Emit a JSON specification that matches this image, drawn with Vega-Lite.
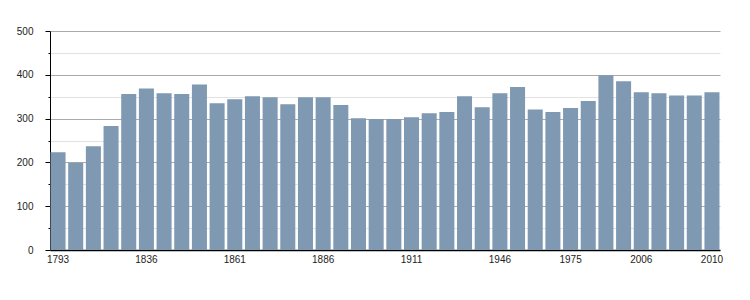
{
  "$schema": "https://vega.github.io/schema/vega-lite/v6.json",
  "width": 670,
  "height": 219,
  "autosize": "none",
  "padding": {"left": 50, "top": 31, "right": 30, "bottom": 50},
  "background": "white",
  "config": {"view": {"stroke": null}, "font": "Liberation Sans"},
  "data": {"values": [
    {"year": "1793", "pop": 223},
    {"year": "1800", "pop": 199},
    {"year": "1806", "pop": 237},
    {"year": "1821", "pop": 283},
    {"year": "1831", "pop": 356},
    {"year": "1836", "pop": 369},
    {"year": "1841", "pop": 358},
    {"year": "1846", "pop": 356},
    {"year": "1851", "pop": 378},
    {"year": "1856", "pop": 335},
    {"year": "1861", "pop": 344},
    {"year": "1866", "pop": 351},
    {"year": "1872", "pop": 349},
    {"year": "1876", "pop": 333},
    {"year": "1881", "pop": 349},
    {"year": "1886", "pop": 349},
    {"year": "1891", "pop": 331},
    {"year": "1896", "pop": 301},
    {"year": "1901", "pop": 299},
    {"year": "1906", "pop": 299},
    {"year": "1911", "pop": 303},
    {"year": "1921", "pop": 312},
    {"year": "1926", "pop": 315},
    {"year": "1931", "pop": 351},
    {"year": "1936", "pop": 326},
    {"year": "1946", "pop": 358},
    {"year": "1954", "pop": 372},
    {"year": "1962", "pop": 321},
    {"year": "1968", "pop": 315},
    {"year": "1975", "pop": 324},
    {"year": "1982", "pop": 340},
    {"year": "1990", "pop": 399},
    {"year": "1999", "pop": 385},
    {"year": "2006", "pop": 360},
    {"year": "2007", "pop": 358},
    {"year": "2008", "pop": 353},
    {"year": "2009", "pop": 353},
    {"year": "2010", "pop": 360}
  ]},
  "mark": {"type": "bar", "color": "#7f99b2"},
  "encoding": {
    "x": {
      "field": "year",
      "type": "ordinal",
      "sort": null,
      "scale": {"paddingInner": 0.15, "paddingOuter": 0.03},
      "axis": {
        "title": null,
        "labelAngle": 0,
        "ticks": false,
        "grid": false,
        "domainColor": "#000",
        "domainWidth": 1.5,
        "labelExpr": "indexof(['1793','1836','1861','1886','1911','1946','1975','2006','2010'], datum.label) >= 0 ? datum.label : ''",
        "labelFontSize": 10,
        "labelPadding": 4,
        "labelColor": "#222"
      }
    },
    "y": {
      "field": "pop",
      "type": "quantitative",
      "scale": {"domain": [0, 500], "nice": false},
      "axis": {
        "title": null,
        "values": [0, 50, 100, 150, 200, 250, 300, 350, 400, 450, 500],
        "domainColor": "#000",
        "domainWidth": 1,
        "tickColor": "#000",
        "tickSize": {"condition": {"test": "datum.value % 100 === 0", "value": 5}, "value": 2},
        "gridColor": {"condition": {"test": "datum.value % 100 === 0", "value": "#aaaaaa"}, "value": "#e2e2e2"},
        "labelExpr": "datum.value % 100 === 0 ? datum.label : ''",
        "labelFontSize": 10,
        "labelPadding": 12,
        "labelColor": "#222"
      }
    }
  }
}
